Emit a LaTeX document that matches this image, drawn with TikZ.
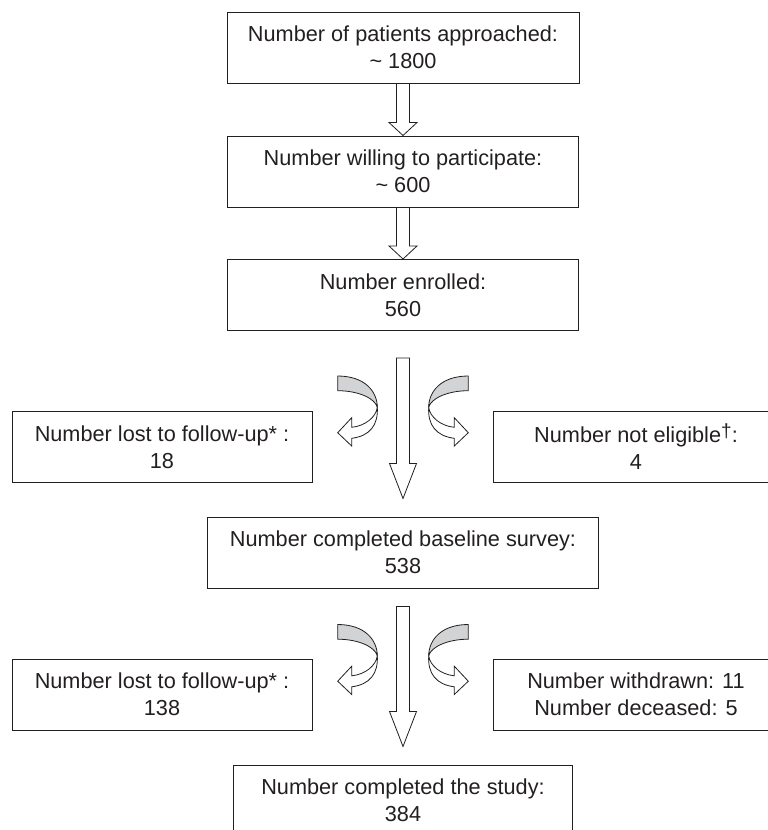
\documentclass[tikz,border=0pt]{standalone}
\usepackage{fontspec}
\setmainfont{Liberation Sans}
\usetikzlibrary{positioning,calc}
\definecolor{ink}{HTML}{231F20}
\definecolor{twistgray}{HTML}{D1D3D4}
\tikzset{box/.style={draw=ink,line width=1pt,text=ink,align=center,inner sep=0pt,minimum height=71pt,font=\fontsize{21.7}{27}\selectfont}}
\tikzset{blockline/.style={draw=ink,line width=0.8pt,fill=white,line join=miter}}
\tikzset{pics/twist/.style={code={
  \draw[blockline,fill=twistgray] (-65.3,18) .. controls (-38,18) and (-25.7,33.7) .. (-25.7,49.3)
    .. controls (-28,40.3) and (-44.7,32.7) .. (-65.3,32.7) -- cycle;
  \draw[blockline] (-25.7,49.3) .. controls (-27,59.3) and (-38,68) .. (-51.3,69.3) -- (-51.3,59.7)
    -- (-65.3,74.7) -- (-51.3,88) -- (-51.3,80.3) .. controls (-33,78) and (-24.7,67) .. (-25.7,49.3) -- cycle;
}}}
\newcommand\blockarrow[4]{%
  \draw[blockline] ($(#1)+(-6.5,0)$) -- ($(#2)+(-6.5,-#4)$) -- ($(#2)+(-#3,-#4)$) -- (#2)
    -- ($(#2)+(#3,-#4)$) -- ($(#2)+(6.5,-#4)$) -- ($(#1)+(6.5,0)$) -- cycle;}
\newcommand\dagmark{\raisebox{5pt}{\fontsize{19}{19}\selectfont †}}

\begin{document}
\begin{tikzpicture}[x=1pt,y=-1pt,on grid]
        \useasboundingbox (0,0) rectangle (768,830);
        \clip (0,0) rectangle (768,830);
        \node[box,minimum width=352pt](approached) at (403,47.5){Number of patients approached:\\\textasciitilde\ 1800};
        \node[box,minimum width=351pt](willing)[below=124pt of approached]{Number willing to participate:\\\textasciitilde\ 600};
        \node[box,minimum width=351pt](enrolled)[below=123.5pt of willing]{Number enrolled:\\560};
        \node[box,minimum width=300pt](lost1)[below left=152pt and 241pt of enrolled]{Number lost to follow-up* :\\18};
        \node[box,minimum width=286pt](noteligible)[below right=152pt and 233pt of enrolled]{Number not eligible\dagmark:\\4};
        \node[box,minimum width=391pt](baseline)[below=257.5pt of enrolled]{Number completed baseline survey:\\538};
        \node[box,minimum width=300pt](lost2)[below=247.5pt of lost1]{Number lost to follow-up* :\\138};
        \node[box,minimum width=286pt](withdrawn)[below=247.5pt of noteligible]{Number withdrawn: 11\\Number deceased: 5};
        \node[box,minimum width=339pt](study)[below=248pt of baseline]{Number completed the study:\\384};
        \coordinate(tail1) at ([yshift=-27pt]enrolled.south);
        \coordinate(tip1) at ([yshift=18pt]baseline.north);
        \coordinate(tail2) at ([yshift=-18pt]baseline.south);
        \coordinate(tip2) at ([yshift=18pt]study.north);
        \blockarrow{approached.south}{willing.north}{14}{13}
        \blockarrow{willing.south}{enrolled.north}{14}{13}
        \blockarrow{tail1}{tip1}{13.5}{35}
        \blockarrow{tail2}{tip2}{13.5}{35}
        \pic at (tail1) {twist};
        \pic[xscale=-1] at (tail1) {twist};
        \pic at (tail2) {twist};
        \pic[xscale=-1] at (tail2) {twist};
      \end{tikzpicture}
\end{document}
